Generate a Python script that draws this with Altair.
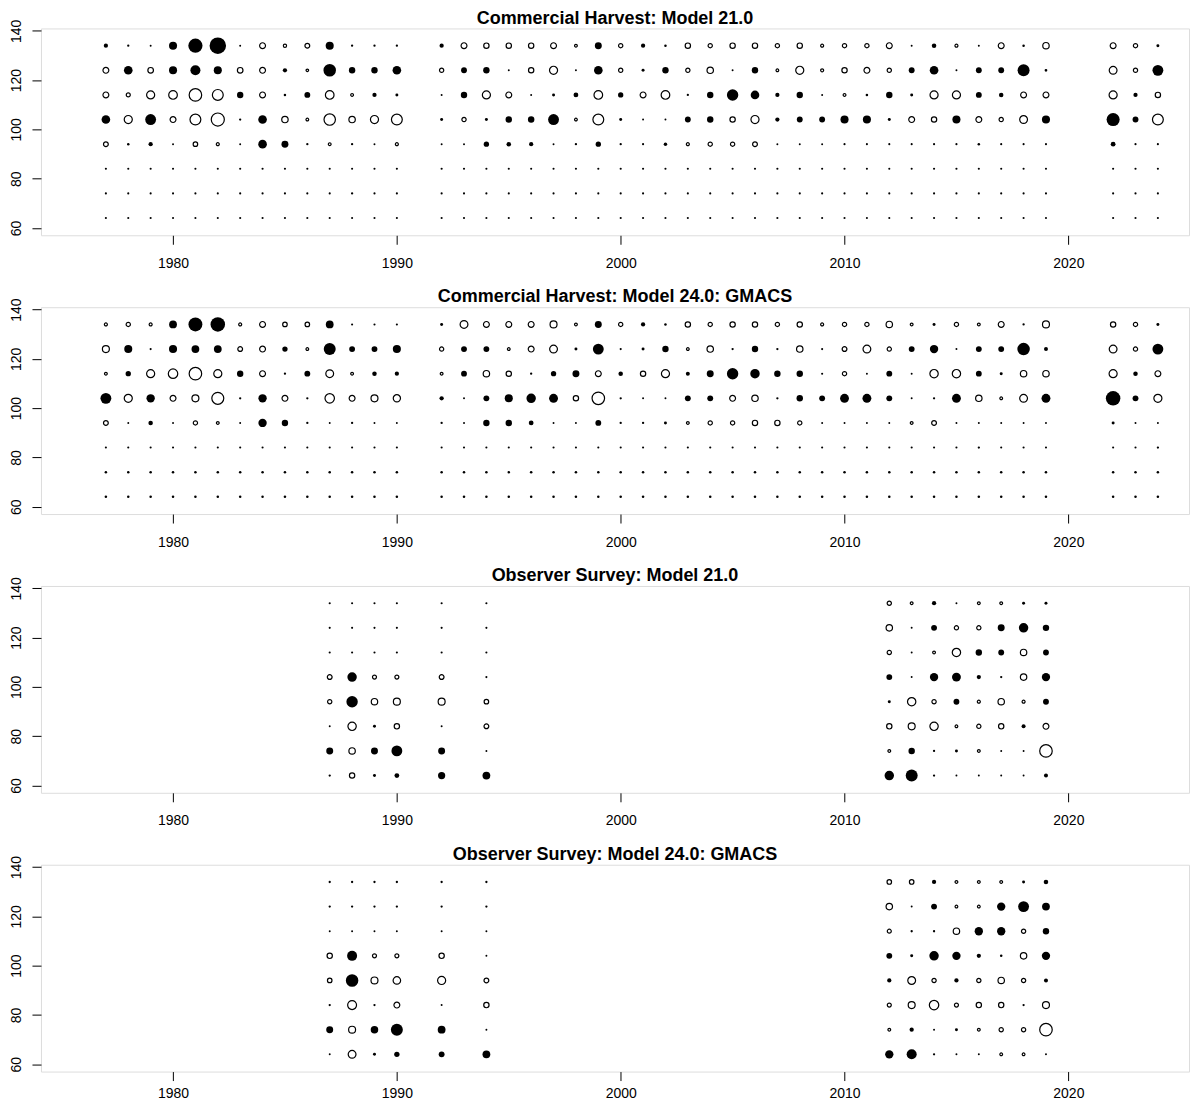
import altair as alt
import pandas as pd

# Size bins (carapace length, mm) from top row to bottom row
lengths = [134, 124, 114, 104, 94, 84, 74, 64]

harvest_years = [1977, 1978, 1979, 1980, 1981, 1982, 1983, 1984, 1985, 1986, 1987, 1988, 1989, 1990,
                 1992, 1993, 1994, 1995, 1996, 1997, 1998, 1999, 2000, 2001, 2002, 2003, 2004, 2005,
                 2006, 2007, 2008, 2009, 2010, 2011, 2012, 2013, 2014, 2015, 2016, 2017, 2018, 2019,
                 2022, 2023, 2024]

observer_years = [1987, 1988, 1989, 1990, 1992, 1994,
                  2012, 2013, 2014, 2015, 2016, 2017, 2018, 2019]

# Residuals (positive = filled, negative = open), one list per size bin
harvest_m21_134 = [0.7, 0.3, 0.2, 1.4, 2.5, 2.9, 0.2, -1.0, -0.5, -0.8, 1.4, 0.3, 0.3, 0.3,
                   0.7, -1.0, -0.9, -0.9, -0.9, -1.0, -0.4, 1.2, -0.7, 0.7, 0.35, -0.9, -0.7, -0.9,
                   -0.9, -0.7, -0.9, -0.45, -0.7, -0.7, -1.0, 0.2, 0.75, -0.45, 0.2, -1.0, 0.35, -1.1,
                   -1.0, -0.7, 0.45]
harvest_m21_124 = [-1.0, 1.5, -0.95, 1.4, 1.75, 1.4, -0.95, -1.0, 0.7, -0.35, 2.2, 1.1, 1.1, 1.5,
                   -0.7, 1.0, 1.1, 0.2, -0.9, -1.4, 0.2, 1.5, -0.7, 0.45, 1.1, -0.7, -1.1, 0.2,
                   1.1, -0.4, -1.4, -0.45, -0.9, -1.0, -0.7, 1.0, 1.5, 0.2, 1.0, 1.0, 2.1, 0.4,
                   -1.35, -0.7, 1.9]
harvest_m21_114 = [-1.0, -0.65, -1.4, -1.5, -2.2, -1.9, 1.1, -1.0, 0.35, 1.0, -1.5, -0.4, 0.7, 0.45,
                   0.2, 1.1, -1.4, -1.0, 0.2, 0.45, 0.8, -1.5, 0.9, -1.0, -1.5, 0.3, 1.1, 2.0,
                   1.5, 0.7, 1.1, 0.2, -0.4, 0.35, 1.1, 0.45, -1.4, -1.4, 1.0, 0.75, -1.0, -1.0,
                   -1.4, 0.7, -0.9]
harvest_m21_104 = [1.5, -1.4, 1.9, -1.0, -1.9, -2.3, 0.3, 1.5, -1.1, -0.4, -2.0, -1.1, -1.4, -1.9,
                   0.45, -0.7, 0.45, 1.1, 1.1, 1.9, -0.4, -1.9, 0.45, 0.2, 0.2, 1.0, 1.1, -0.9,
                   -1.4, 0.7, 1.0, 1.0, 1.4, 1.4, 0.45, -1.0, -0.9, 1.4, -1.0, -0.7, -1.35, 1.4,
                   2.3, 1.0, -1.9]
harvest_m21_94 = [-0.8, 0.35, 0.7, 0.2, -0.75, -0.45, 0.2, 1.5, 1.2, 0.3, -0.4, 0.3, 0.2, -0.45,
                  0.2, 0.2, 0.9, 0.75, 0.7, 0.2, 0.3, 0.9, 0.3, 0.25, 0.55, -0.45, -0.7, -0.7,
                  -0.8, 0.2, 0.2, 0.2, 0.25, 0.25, 0.25, 0.25, 0.25, 0.25, 0.35, 0.25, 0.25, 0.25,
                  0.8, 0.25, 0.25]
harvest_m21_84 = [0.25, 0.25, 0.25, 0.25, 0.25, 0.25, 0.25, 0.25, 0.25, 0.25, 0.25, 0.25, 0.25, 0.25,
                  0.25, 0.25, 0.25, 0.25, 0.25, 0.25, 0.25, 0.25, 0.25, 0.25, 0.25, 0.25, 0.25, 0.25,
                  0.25, 0.25, 0.25, 0.25, 0.25, 0.25, 0.25, 0.25, 0.25, 0.25, 0.25, 0.25, 0.25, 0.25,
                  0.25, 0.25, 0.25]
harvest_m21_74 = [0.25, 0.25, 0.25, 0.25, 0.25, 0.25, 0.25, 0.25, 0.25, 0.25, 0.25, 0.3, 0.25, 0.25,
                  0.25, 0.25, 0.25, 0.25, 0.25, 0.25, 0.25, 0.25, 0.25, 0.25, 0.25, 0.25, 0.25, 0.25,
                  0.25, 0.25, 0.25, 0.25, 0.25, 0.25, 0.25, 0.25, 0.25, 0.25, 0.25, 0.25, 0.25, 0.25,
                  0.25, 0.25, 0.25]
harvest_m21_64 = [0.25, 0.25, 0.25, 0.25, 0.25, 0.25, 0.25, 0.25, 0.25, 0.25, 0.25, 0.25, 0.25, 0.25,
                  0.25, 0.25, 0.25, 0.25, 0.25, 0.25, 0.25, 0.25, 0.25, 0.25, 0.25, 0.25, 0.25, 0.25,
                  0.25, 0.25, 0.25, 0.25, 0.25, 0.25, 0.25, 0.25, 0.25, 0.25, 0.25, 0.25, 0.25, 0.25,
                  0.25, 0.25, 0.25]

harvest_m24_134 = [-0.45, -0.7, -0.45, 1.35, 2.45, 2.55, -0.45, -1.0, -0.75, -0.75, 1.35, 0.25, 0.25, 0.25,
                   0.45, -1.35, -1.0, -1.0, -1.0, -1.2, -0.4, 1.2, -0.7, 0.7, 0.35, -0.9, -0.7, -0.9,
                   -0.9, -0.7, -0.9, -0.45, -0.7, -0.7, -1.1, -0.4, 0.45, -0.7, -0.4, -1.0, 0.3, -1.2,
                   -0.9, -0.7, 0.45]
harvest_m24_124 = [-1.2, 1.4, 0.25, 1.4, 1.35, 1.35, -0.8, -1.0, 0.9, -0.4, 2.1, 1.0, 1.0, 1.4,
                   -0.7, 1.0, 1.0, -0.4, -1.0, -1.35, 0.45, 1.9, 0.25, 0.45, 1.1, -0.4, -1.1, 0.3,
                   1.1, 0.3, -1.1, 0.25, -0.8, -1.35, -0.7, 1.0, 1.45, 0.2, 1.0, 1.0, 2.2, 0.65,
                   -1.35, -0.7, 1.9]
harvest_m24_114 = [-0.4, 0.9, -1.4, -1.65, -2.2, -1.4, 1.1, -1.0, 0.3, 1.0, -1.35, -0.4, 0.75, 0.7,
                   -0.4, 1.0, -1.1, -0.9, 0.3, 0.9, 1.2, -1.0, 0.75, -0.9, -1.4, 0.65, 1.2, 2.0,
                   1.65, 1.1, 1.1, 0.25, -0.7, 0.2, 1.0, 0.2, -1.45, -1.45, 1.0, 0.45, -1.1, -1.1,
                   -1.4, 0.75, -1.0]
harvest_m24_104 = [1.9, -1.4, 1.45, -1.0, -1.2, -2.1, 0.3, 1.45, -1.0, 0.3, -1.65, -1.0, -1.2, -1.25,
                   0.7, 0.2, 1.0, 1.4, 1.65, 1.55, -0.9, -2.2, 0.3, 0.2, 0.2, 1.0, 1.0, -1.0,
                   -1.1, 0.3, 1.1, 1.0, 1.55, 1.55, 1.0, 0.2, 0.3, 1.55, -1.1, -0.4, -1.35, 1.55,
                   2.55, 1.0, -1.4]
harvest_m24_94 = [-0.8, 0.2, 0.75, 0.2, -0.7, -0.4, 0.2, 1.45, 1.1, 0.3, 0.2, 0.3, 0.2, 0.2,
                  0.3, 0.2, 1.1, 1.1, 0.8, 0.2, 0.2, 1.0, 0.3, 0.3, 0.45, -0.4, -0.7, -0.7,
                  -0.9, -0.9, -0.7, 0.2, 0.2, 0.2, 0.2, -0.4, -0.8, 0.2, 0.2, 0.2, 0.2, 0.2,
                  0.45, 0.2, 0.2]
harvest_m24_84 = [0.25, 0.25, 0.25, 0.25, 0.25, 0.25, 0.25, 0.25, 0.25, 0.25, 0.25, 0.25, 0.25, 0.25,
                  0.25, 0.25, 0.25, 0.25, 0.25, 0.25, 0.25, 0.25, 0.25, 0.25, 0.25, 0.25, 0.25, 0.25,
                  0.25, 0.25, 0.25, 0.25, 0.25, 0.25, 0.25, 0.25, 0.25, 0.25, 0.3, 0.25, 0.25, 0.25,
                  0.25, 0.25, 0.3]
harvest_m24_74 = [0.35, 0.35, 0.35, 0.35, 0.35, 0.35, 0.35, 0.35, 0.35, 0.35, 0.35, 0.35, 0.35, 0.35,
                  0.35, 0.35, 0.35, 0.35, 0.35, 0.35, 0.35, 0.35, 0.35, 0.35, 0.35, 0.35, 0.35, 0.35,
                  0.35, 0.35, 0.35, 0.35, 0.35, 0.35, 0.35, 0.35, 0.35, 0.35, 0.35, 0.35, 0.35, 0.35,
                  0.35, 0.35, 0.35]
harvest_m24_64 = [0.35, 0.35, 0.35, 0.35, 0.35, 0.35, 0.35, 0.35, 0.35, 0.35, 0.35, 0.35, 0.35, 0.35,
                  0.35, 0.35, 0.35, 0.35, 0.35, 0.35, 0.35, 0.35, 0.35, 0.35, 0.35, 0.35, 0.35, 0.35,
                  0.35, 0.35, 0.35, 0.35, 0.35, 0.35, 0.35, 0.35, 0.35, 0.35, 0.35, 0.35, 0.35, 0.35,
                  0.35, 0.35, 0.35]

observer_m21_134 = [0.25, 0.25, 0.25, 0.25, 0.25, 0.25, -0.7, -0.4, 0.7, 0.2, -0.4, -0.4, 0.45, 0.45]
observer_m21_124 = [0.25, 0.25, 0.25, 0.25, 0.25, 0.25, -1.1, 0.2, 1.0, -0.7, -0.7, 1.2, 1.65, 1.1]
observer_m21_114 = [0.25, 0.25, 0.25, 0.25, 0.25, 0.25, -0.7, 0.2, -0.4, -1.45, 1.1, 1.0, -1.1, 1.0]
observer_m21_104 = [-0.8, 1.65, -0.65, -0.65, -0.8, 0.25, 1.0, 0.2, 1.45, 1.55, 0.7, 0.3, -1.1, 1.45]
observer_m21_94 = [-0.7, 2.0, -1.1, -1.2, -1.2, -0.75, 0.45, -1.45, -0.7, 1.0, -0.45, -1.1, -0.45, 1.0]
observer_m21_84 = [0.2, -1.45, 0.45, -0.9, 0.2, -0.8, -0.9, -1.2, -1.45, -0.4, -0.7, -0.9, 0.65, -1.0]
observer_m21_74 = [1.2, -1.1, 1.2, 1.9, 1.2, 0.2, -0.4, 1.1, 0.3, 0.45, -0.4, 0.2, 0.2, -2.2]
observer_m21_64 = [0.3, -0.9, 0.45, 0.8, 1.25, 1.35, 1.65, 2.1, 0.3, 0.2, 0.2, 0.2, 0.2, 0.65]

observer_m24_134 = [0.3, 0.3, 0.3, 0.3, 0.3, 0.3, -0.75, -0.75, 0.7, -0.4, -0.4, -0.4, 0.45, 0.75]
observer_m24_124 = [0.3, 0.3, 0.3, 0.3, 0.3, 0.3, -1.1, 0.2, 1.0, -0.4, -0.4, 1.45, 1.9, 1.35]
observer_m24_114 = [0.2, 0.2, 0.2, 0.2, 0.2, 0.2, -0.65, 0.3, 0.3, -1.1, 1.45, 1.45, -0.7, 1.1]
observer_m24_104 = [-0.9, 1.75, -0.65, -0.65, -0.9, 0.2, 1.0, 0.45, 1.65, 1.45, 0.7, 0.35, -1.1, 1.45]
observer_m24_94 = [-0.75, 2.2, -1.2, -1.3, -1.4, -0.8, 0.7, -1.35, -0.7, 0.7, -0.7, -1.1, -0.7, 0.65]
observer_m24_84 = [0.3, -1.55, 0.3, -1.0, 0.2, -0.9, -0.65, -1.2, -1.65, -0.65, -0.9, -0.9, 0.3, -1.2]
observer_m24_74 = [1.2, -1.2, 1.3, 2.1, 1.35, 0.2, -0.4, 0.7, 0.2, 0.45, -0.4, -0.7, -0.7, -2.2]
observer_m24_64 = [0.2, -1.35, 0.45, 0.9, 1.0, 1.35, 1.45, 1.75, 0.3, 0.2, 0.2, -0.4, -0.4, 0.2]

panel_titles = ["Commercial Harvest: Model 21.0",
                "Commercial Harvest: Model 24.0: GMACS",
                "Observer Survey: Model 21.0",
                "Observer Survey: Model 24.0: GMACS"]

x_ticks = [1980, 1990, 2000, 2010, 2020]
y_ticks = [60, 80, 100, 120, 140]

panels_data = [
    (harvest_years, [harvest_m21_134, harvest_m21_124, harvest_m21_114, harvest_m21_104,
                     harvest_m21_94, harvest_m21_84, harvest_m21_74, harvest_m21_64]),
    (harvest_years, [harvest_m24_134, harvest_m24_124, harvest_m24_114, harvest_m24_104,
                     harvest_m24_94, harvest_m24_84, harvest_m24_74, harvest_m24_64]),
    (observer_years, [observer_m21_134, observer_m21_124, observer_m21_114, observer_m21_104,
                      observer_m21_94, observer_m21_84, observer_m21_74, observer_m21_64]),
    (observer_years, [observer_m24_134, observer_m24_124, observer_m24_114, observer_m24_104,
                      observer_m24_94, observer_m24_84, observer_m24_74, observer_m24_64]),
]

FONT = "Liberation Sans"


def make_df(years, rows):
    recs = []
    for length, row in zip(lengths, rows):
        for yr, val in zip(years, row):
            recs.append({"year": yr, "length": length, "resid": val})
    return pd.DataFrame(recs)


def make_panel(years, rows, title, label_pad):
    df = make_df(years, rows)
    base = alt.Chart(df).transform_calculate(mag="abs(datum.resid)")
    x = alt.X("year:Q",
              scale=alt.Scale(domain=[1974.1, 2025.39], nice=False, zero=False),
              axis=alt.Axis(values=x_ticks, title=None, format="d", grid=False, domain=False,
                            tickSize=9, labelPadding=label_pad, labelFontSize=14, labelFont=FONT,
                            labelColor="black", tickColor="black"))
    y = alt.Y("length:Q",
              scale=alt.Scale(domain=[57, 141], nice=False, zero=False),
              axis=alt.Axis(values=y_ticks, title=None, grid=False, domain=False,
                            tickSize=9, labelPadding=8, labelFontSize=14, labelFont=FONT,
                            labelColor="black", tickColor="black", labelAngle=270,
                            labelAlign="center", labelBaseline="bottom",
                            minExtent=31, maxExtent=31))
    size = alt.Size("mag:Q",
                    scale=alt.Scale(type="pow", exponent=2, domain=[0, 3], range=[2.5, 290]),
                    legend=None)
    pos = base.transform_filter("datum.resid > 0").mark_circle(
        color="black", opacity=1).encode(x=x, y=y, size=size)
    neg = base.transform_filter("datum.resid <= 0").mark_point(
        shape="circle", filled=False, color="black", strokeWidth=1.2, opacity=1).encode(
        x=x, y=y, size=size)
    return alt.layer(pos, neg).properties(
        width=1149, height=207,
        title=alt.TitleParams(title, fontSize=18, font=FONT, fontWeight="bold",
                              color="black", offset=-8.5, anchor="middle"))


label_pads = [12, 12, 12, 6]
charts = [make_panel(yrs, rows, t, lp)
          for (yrs, rows), t, lp in zip(panels_data, panel_titles, label_pads)]

chart = alt.vconcat(*charts, spacing=16).properties(
    padding={"left": 1, "top": 0, "right": 0, "bottom": 0}
).configure_view(stroke="black", strokeWidth=1).configure(background="white")

chart.save("out.html", embed_options={"renderer": "svg", "actions": False})
